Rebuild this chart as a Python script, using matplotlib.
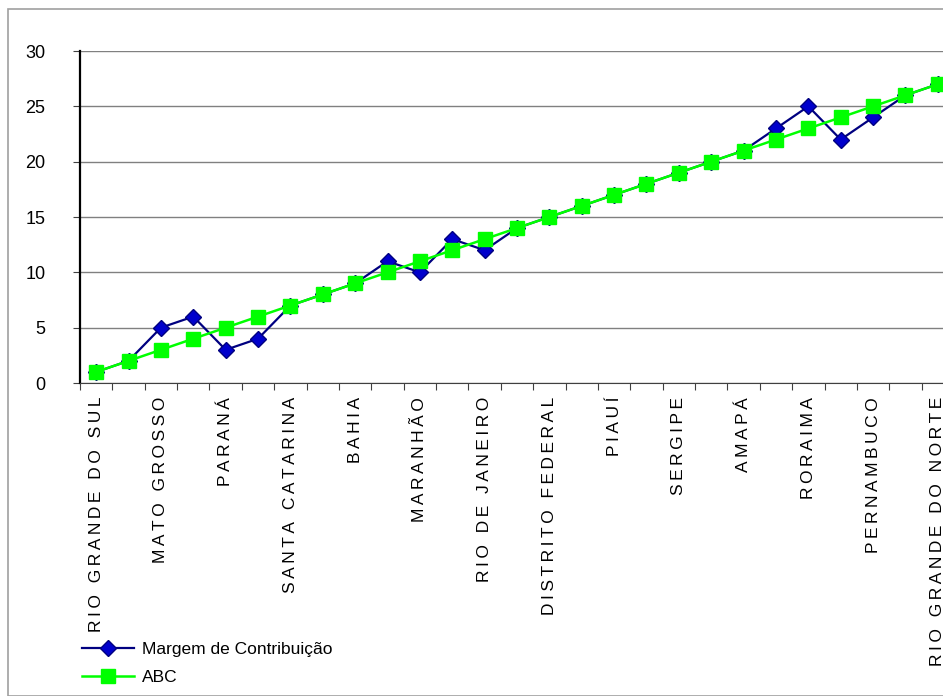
import numpy as np
import matplotlib.pyplot as plt
from matplotlib.patches import Rectangle

plt.rcParams['font.family'] = ['Liberation Sans', 'DejaVu Sans']

# posições no ranking (1..27) por estado
posicao = np.arange(1, 28)
margem = [1, 2, 5, 6, 3, 4, 7, 8, 9, 11, 10, 13, 12, 14, 15, 16, 17, 18, 19, 20,
          21, 23, 25, 22, 24, 26, 27]
abc = [1, 2, 3, 4, 5, 6, 7, 8, 9, 10, 11, 12, 13, 14, 15, 16, 17, 18, 19, 20,
       21, 22, 23, 24, 25, 26, 27]

# só metade dos rótulos aparece no eixo
rotulos = ['RIO GRANDE DO SUL', 'MATO GROSSO', 'PARANÁ', 'SANTA CATARINA', 'BAHIA',
           'MARANHÃO', 'RIO DE JANEIRO', 'DISTRITO FEDERAL', 'PIAUÍ', 'SERGIPE',
           'AMAPÁ', 'RORAIMA', 'PERNAMBUCO', 'RIO GRANDE DO NORTE']
pos_rotulos = posicao[::2]


def espacar(txt):
    return '\u2009'.join(txt)


fig = plt.figure(figsize=(9.43, 6.96), dpi=100)
fig.patches.append(Rectangle((8 / 943, 0), 1, 1 - 9 / 696, transform=fig.transFigure,
                             fill=False, edgecolor='#a0a0a0', linewidth=1.2))

ax = fig.add_axes([80 / 943, 1 - 383 / 696, 874 / 943, 332 / 696])

ax.plot(posicao, margem, color='#000080', linewidth=1.6, marker='D', markersize=8.5,
        markerfacecolor='#0000cc', markeredgecolor='#000080', label='Margem de Contribuição',
        zorder=3)
ax.plot(posicao, abc, color='#00ff00', linewidth=1.8, marker='s', markersize=10,
        markerfacecolor='#00ff00', markeredgecolor='#00ff00', label='ABC', zorder=4)

ax.set_xlim(0.5, 27.5)
ax.set_ylim(0, 30)
ax.set_yticks(range(0, 31, 5))
ax.yaxis.grid(True, color='#808080', linewidth=1)
ax.set_axisbelow(True)

ax.set_xticks(np.arange(0.5, 28, 1))
ax.set_xticklabels([])
ax.set_xticks(pos_rotulos, minor=True)
ax.set_xticklabels([espacar(r) for r in rotulos], minor=True, rotation=90, fontsize=12.5)
ax.tick_params(axis='x', which='minor', length=0, pad=10)
ax.tick_params(axis='x', which='major', length=5, color='#404040', direction='out')
ax.tick_params(axis='y', length=5, labelsize=13, pad=20, color='#404040')

for s in ['top', 'right']:
    ax.spines[s].set_visible(False)
ax.spines['left'].set_color('black')
ax.spines['left'].set_linewidth(1.6)
ax.spines['bottom'].set_color('#404040')

fig.legend(loc='upper left', bbox_to_anchor=(66 / 943, 1 - 626 / 696), frameon=False,
           fontsize=12.5, handlelength=3.0, handletextpad=0.5, labelspacing=0.75)

fig.savefig('out.png', dpi=100)
